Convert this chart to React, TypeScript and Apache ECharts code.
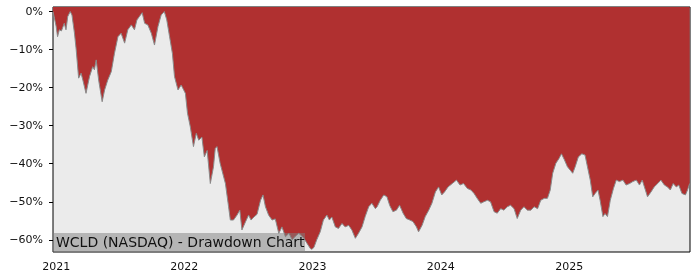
import React, { useEffect, useRef } from "react";
import * as echarts from "echarts";

const dates: string[] = [
  "2020-12-23", "2021-01-01", "2021-01-05", "2021-01-10", "2021-01-16", "2021-01-24", "2021-01-29", "2021-02-03",
  "2021-02-10", "2021-02-15", "2021-02-22", "2021-02-27", "2021-03-06", "2021-03-13", "2021-03-18", "2021-03-27",
  "2021-04-06", "2021-04-15", "2021-04-20", "2021-04-25", "2021-05-02", "2021-05-12", "2021-05-19", "2021-05-28",
  "2021-06-07", "2021-06-16", "2021-06-26", "2021-07-05", "2021-07-15", "2021-07-24", "2021-08-03", "2021-08-12",
  "2021-08-19", "2021-08-26", "2021-09-03", "2021-09-10", "2021-09-19", "2021-09-29", "2021-10-08", "2021-10-18",
  "2021-10-27", "2021-11-05", "2021-11-12", "2021-11-20", "2021-11-28", "2021-12-04", "2021-12-14", "2021-12-23",
  "2022-01-04", "2022-01-10", "2022-01-18", "2022-01-27", "2022-02-04", "2022-02-11", "2022-02-20", "2022-02-27",
  "2022-03-07", "2022-03-16", "2022-03-25", "2022-03-30", "2022-04-04", "2022-04-13", "2022-04-28", "2022-05-07",
  "2022-05-12", "2022-05-21", "2022-05-31", "2022-06-08", "2022-06-14", "2022-06-24", "2022-07-03", "2022-07-10",
  "2022-07-18", "2022-07-27", "2022-08-06", "2022-08-13", "2022-08-20", "2022-08-29", "2022-09-08", "2022-09-17",
  "2022-09-27", "2022-10-06", "2022-10-16", "2022-10-26", "2022-11-04", "2022-11-14", "2022-11-23", "2022-12-07",
  "2022-12-17", "2022-12-26", "2022-12-30", "2023-01-05", "2023-01-13", "2023-01-23", "2023-02-01", "2023-02-11",
  "2023-02-18", "2023-02-25", "2023-03-07", "2023-03-16", "2023-03-26", "2023-04-04", "2023-04-14", "2023-04-23",
  "2023-05-03", "2023-05-12", "2023-05-22", "2023-05-31", "2023-06-10", "2023-06-19", "2023-06-29", "2023-07-04",
  "2023-07-13", "2023-07-23", "2023-08-01", "2023-08-09", "2023-08-18", "2023-08-28", "2023-09-06", "2023-09-16",
  "2023-09-25", "2023-10-05", "2023-10-14", "2023-10-24", "2023-10-30", "2023-11-09", "2023-11-18", "2023-11-28",
  "2023-12-07", "2023-12-17", "2023-12-26", "2024-01-04", "2024-01-12", "2024-01-22", "2024-02-03", "2024-02-15",
  "2024-02-25", "2024-03-06", "2024-03-17", "2024-03-27", "2024-04-05", "2024-04-14", "2024-04-24", "2024-05-03",
  "2024-05-13", "2024-05-22", "2024-06-01", "2024-06-10", "2024-06-20", "2024-06-29", "2024-07-09", "2024-07-18",
  "2024-07-28", "2024-08-06", "2024-08-16", "2024-08-25", "2024-09-04", "2024-09-14", "2024-09-23", "2024-10-03",
  "2024-10-12", "2024-10-22", "2024-10-31", "2024-11-08", "2024-11-15", "2024-11-24", "2024-12-03", "2024-12-10",
  "2024-12-18", "2024-12-27", "2025-01-04", "2025-01-11", "2025-01-18", "2025-01-27", "2025-02-06", "2025-02-15",
  "2025-02-22", "2025-03-02", "2025-03-09", "2025-03-16", "2025-03-24", "2025-03-30", "2025-04-07", "2025-04-13",
  "2025-04-20", "2025-04-28", "2025-05-07", "2025-05-15", "2025-05-24", "2025-06-03", "2025-06-12", "2025-06-22",
  "2025-07-01", "2025-07-11", "2025-07-20", "2025-07-28", "2025-08-06", "2025-08-12", "2025-08-22", "2025-08-31",
  "2025-09-10", "2025-09-19", "2025-09-29", "2025-10-08", "2025-10-16", "2025-10-24", "2025-11-02", "2025-11-09",
  "2025-11-18", "2025-11-28", "2025-12-04", "2025-12-10",
];

const drawdown: number[] = [
  0, -3.9, -6.6, -4.8, -5.1, -3.1, -4.8, -1.3,
  0, -0.9, -5.6, -10, -17.5, -16.2, -18, -21.5,
  -17.1, -14.5, -15.3, -12.7, -18, -23.7, -20.6, -18,
  -15.8, -11, -6.6, -5.7, -8.3, -4.8, -3.5, -4.8,
  -2.2, -1.3, -0.3, -3.1, -3.5, -5.7, -8.8, -3.9,
  -0.9, 0, -2.2, -6.6, -11, -17.1, -20.6, -19.3,
  -21.5, -26.7, -30.3, -35.5, -32, -33.8, -33, -38.2,
  -36.5, -45.2, -40.8, -36, -35.5, -39.9, -45.2, -51.3,
  -54.8, -54.8, -53.5, -52.2, -57.4, -55.3, -53.5, -54.8,
  -54, -53.3, -49.6, -48.2, -51.3, -53.5, -54.8, -54.5,
  -58.3, -56.6, -59.2, -58.3, -60, -59, -58.3, -59.5,
  -61, -62.3, -62.5, -62, -60, -57.9, -54.8, -53.5,
  -54.8, -54, -56.6, -57, -55.7, -56.6, -56.2, -57.4,
  -59.6, -58.3, -56.6, -53.9, -51.3, -50.4, -51.8, -51.3,
  -49.6, -48.2, -48.7, -51, -52.6, -52.2, -50.9, -53,
  -54.4, -54.8, -55.2, -56.6, -57.9, -56.2, -53.9, -52.2,
  -50.4, -47.4, -46.1, -48.2, -47.4, -46.1, -45.2, -44.3,
  -45.6, -45.2, -46.5, -46.9, -47.8, -49.1, -50.4, -50,
  -49.6, -50, -52.6, -53, -51.8, -52.2, -51.3, -50.9,
  -51.8, -54.4, -52.2, -51.3, -52.2, -52.2, -51.3, -51.8,
  -49.6, -49.1, -49.1, -46.9, -42.5, -39.9, -38.6, -37.4,
  -38.9, -40.8, -41.7, -42.5, -40.8, -38.2, -37.4, -37.7,
  -40.8, -44.3, -48.7, -47.8, -46.9, -49.6, -53.9, -53.1,
  -53.9, -49.6, -46.5, -44.3, -44.7, -44.3, -45.6, -45.2,
  -44.7, -44.3, -45.6, -44.3, -46.9, -48.7, -47.4, -46.1,
  -45.2, -44.3, -45.6, -46.1, -46.9, -45.2, -46.1, -45.6,
  -47.8, -48.2, -46.9, -45.2,
];

const yearTicks: string[] = ["2021", "2022", "2023", "2024", "2025"];
const yTicks: number[] = [0, -10, -20, -30, -40, -50, -60];
const chartTitle = "WCLD (NASDAQ) - Drawdown Chart";

const FONT = "DejaVu Sans";

export default function App() {
  const ref = useRef<HTMLDivElement>(null);

  useEffect(() => {
    if (!ref.current) return;
    const chart = echarts.init(ref.current, null, { renderer: "svg" });
    const toTime = (s: string) => {
      const [y, m, d] = s.split("-").map(Number);
      return Date.UTC(y, m - 1, d);
    };
    const seriesData = dates.map((d, i) => [toTime(d), drawdown[i]]);
    const yearValues = yearTicks.map((y) => Date.UTC(Number(y), 0, 1));
    const xMin = toTime(dates[0]);
    const xMax = toTime(dates[dates.length - 1]) + 86400000;

    chart.setOption({
      animation: false,
      grid: {
        left: 53,
        right: 10,
        top: 7,
        bottom: 28,
        show: true,
        backgroundColor: "#ebebeb",
        borderColor: "#000",
        borderWidth: 1,
      },
      xAxis: {
        type: "value",
        min: xMin,
        max: xMax,
        axisLine: { show: false },
        splitLine: { show: false },
        axisTick: {
          show: true,
          length: 4,
          lineStyle: { color: "#000" },
          customValues: yearValues,
        },
        axisLabel: {
          customValues: yearValues,
          formatter: (v: number) => String(new Date(v).getUTCFullYear()),
          color: "#111",
          fontFamily: FONT,
          fontSize: 11,
          margin: 9,
        },
      },
      yAxis: {
        type: "value",
        min: -63.2,
        max: 1.2,
        axisLine: { show: false },
        splitLine: { show: false },
        axisTick: {
          show: true,
          length: 4,
          lineStyle: { color: "#000" },
          customValues: yTicks,
        },
        axisLabel: {
          customValues: yTicks,
          formatter: (v: number) => (v < 0 ? "\u2212" + Math.abs(v) : String(v)) + "%",
          color: "#111",
          fontFamily: FONT,
          fontSize: 11,
          margin: 10,
        },
      },
      series: [
        {
          type: "line",
          data: seriesData,
          showSymbol: false,
          symbol: "none",
          lineStyle: { color: "#8a8a8a", width: 1 },
          areaStyle: { color: "#b03030", opacity: 1, origin: "end" },
          z: 2,
        },
      ],
      graphic: [
        {
          type: "rect",
          left: 53,
          top: 233,
          shape: { width: 252, height: 19 },
          style: { fill: "rgba(128,128,128,0.5)" },
          z: 10,
        },
        {
          type: "text",
          left: 56,
          top: 235,
          style: {
            text: chartTitle,
            fill: "#111",
            fontFamily: FONT,
            fontSize: 14,
          },
          z: 11,
        },
      ],
    });
    return () => chart.dispose();
  }, []);

  return (
    <div
      ref={ref}
      style={{ position: "fixed", left: 0, top: 0, width: 700, height: 280 }}
    />
  );
}
